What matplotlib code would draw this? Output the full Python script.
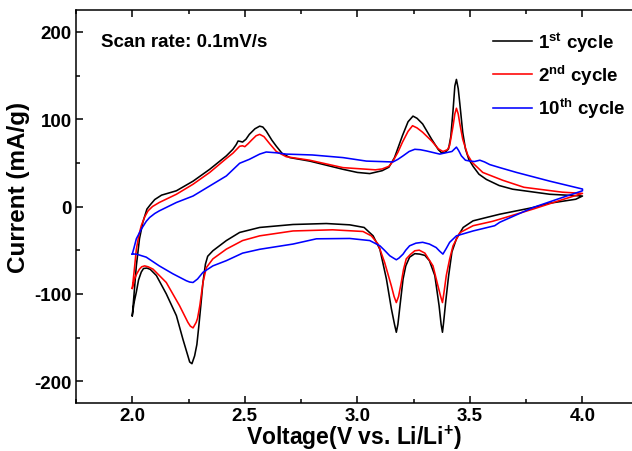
import matplotlib
matplotlib.use("Agg")
import matplotlib.pyplot as plt
from matplotlib.ticker import MultipleLocator

plt.rcParams["font.family"] = ["Liberation Sans", "DejaVu Sans"]
plt.rcParams["font.weight"] = "bold"
plt.rcParams["axes.unicode_minus"] = False
plt.rcParams["mathtext.fontset"] = "custom"
plt.rcParams["mathtext.rm"] = "Liberation Sans:bold"
plt.rcParams["mathtext.bf"] = "Liberation Sans:bold"

# 1st cycle: anodic (upper) branch 2.0 -> 4.0, cathodic (lower) branch 4.0 -> 2.0
v_1st_up = [2.0, 2.008, 2.018, 2.032, 2.047, 2.065, 2.08, 2.1, 2.13, 2.196, 2.27, 2.344, 2.418,
            2.447, 2.462, 2.47, 2.48, 2.49, 2.505, 2.52, 2.545, 2.566, 2.58, 2.595, 2.62, 2.64,
            2.665, 2.7, 2.788, 2.936, 3.0, 3.055, 3.11, 3.14, 3.165, 3.2, 3.225, 3.247, 3.265,
            3.29, 3.33, 3.36, 3.373, 3.39, 3.405, 3.415, 3.425, 3.433, 3.44, 3.448, 3.455,
            3.468, 3.48, 3.495, 3.514, 3.54, 3.573, 3.63, 3.69, 3.855, 4.0]
i_1st_up = [-125, -100, -68, -37, -18, -3, 2, 8, 13, 18, 29, 42.6, 58,
            65.5, 71, 75, 74.5, 73.8, 77, 82.6, 89, 92, 91, 86.4, 76, 69,
            61, 56, 52, 42.6, 39, 37.7, 41, 45, 56, 81, 97, 103.5, 101,
            94.5, 77, 65, 61.7, 62, 66, 80, 110, 138, 145.5, 135, 118,
            85, 66, 54, 46, 37, 31, 24, 19.8, 14, 12]
v_1st_dn = [4.0, 3.97, 3.855, 3.78, 3.633, 3.573, 3.514, 3.47, 3.44, 3.42, 3.405, 3.392,
            3.383, 3.378, 3.372, 3.363, 3.344, 3.32, 3.3, 3.277, 3.255, 3.232, 3.215, 3.203,
            3.19, 3.18, 3.173, 3.165, 3.151, 3.129, 3.1, 3.07, 3.03, 2.966, 2.862, 2.714,
            2.566, 2.477, 2.418, 2.358, 2.335, 2.325, 2.314, 2.305, 2.296, 2.287, 2.277,
            2.265, 2.255, 2.247, 2.225, 2.196, 2.151, 2.107, 2.08, 2.065, 2.05, 2.04, 2.028,
            2.018, 2.008, 2.0]
i_1st_dn = [12, 8.3, 3.8, -1.2, -8.8, -12.6, -16.4, -24, -37, -52, -80, -110,
            -133, -144, -135, -113.6, -79, -62, -56, -54.5, -54, -58, -68, -83,
            -112, -135, -144, -135, -117, -83, -49, -33.6, -24, -21, -19.5, -20.6,
            -24, -29.7, -39, -50.7, -57, -66, -87, -112, -136, -158, -171,
            -180, -178, -171, -152, -125, -100, -79, -72, -70.5, -71, -75, -84,
            -98, -110, -125]

# 2nd cycle
v_2nd_up = [2.0, 2.008, 2.018, 2.03, 2.04, 2.055, 2.07, 2.09, 2.12, 2.196, 2.27, 2.344, 2.418,
            2.447, 2.477, 2.49, 2.5, 2.515, 2.53, 2.55, 2.566, 2.585, 2.61, 2.64, 2.684,
            2.788, 2.936, 3.08, 3.11, 3.14, 3.155, 3.18, 3.2, 3.225, 3.245, 3.265, 3.29,
            3.33, 3.36, 3.38, 3.4, 3.41, 3.425, 3.433, 3.44, 3.448, 3.455, 3.468, 3.49,
            3.51, 3.557, 3.646, 3.74, 3.91, 4.0]
i_2nd_up = [-93.7, -75, -49, -32, -22, -12, -5, 0, 4.6, 14, 25.5, 39, 55,
            61, 69, 69.5, 68.5, 72, 76, 81, 82.6, 80, 72, 63, 57,
            53, 44.5, 42, 43, 46, 50.7, 62, 73.5, 86, 92.5, 90, 85,
            75, 66, 63, 65, 70, 92, 106, 112.5, 106, 95, 77, 59,
            50.5, 39, 30, 22, 16.4, 15]
v_2nd_dn = [4.0, 3.9, 3.78, 3.633, 3.6, 3.514, 3.455, 3.425, 3.41, 3.395, 3.385, 3.378,
            3.37, 3.358, 3.336, 3.3, 3.275, 3.255, 3.235, 3.217, 3.205, 3.195, 3.183, 3.173,
            3.163, 3.151, 3.121, 3.092, 3.062, 3.025, 2.89, 2.714, 2.566, 2.49, 2.418,
            2.358, 2.329, 2.314, 2.3, 2.29, 2.284, 2.27, 2.258, 2.247, 2.21, 2.151, 2.092,
            2.07, 2.055, 2.042, 2.032, 2.02, 2.01, 2.0]
i_2nd_dn = [15, 7, -3, -14.5, -17, -22, -30, -45, -60, -79, -98, -110,
            -103, -91, -68, -53.4, -50, -50.7, -55, -60, -72, -87, -103, -110,
            -103, -91, -64, -43, -33.6, -28.6, -26.7, -28, -33.6, -39, -48.8,
            -60, -70, -87, -113.6, -128, -132.6, -139, -137, -132.6, -113.6, -87, -71.7,
            -69, -68, -69, -71.7, -77, -83, -93.7]

# 10th cycle
v_10th_up = [2.0, 2.008, 2.018, 2.04, 2.062, 2.077, 2.1, 2.12, 2.196, 2.27, 2.344, 2.418, 2.477,
             2.52, 2.566, 2.595, 2.64, 2.684, 2.8, 2.936, 3.04, 3.158, 3.18, 3.203, 3.23,
             3.255, 3.28, 3.307, 3.366, 3.396, 3.42, 3.432, 3.44, 3.45, 3.462, 3.48, 3.5,
             3.52, 3.544, 3.565, 3.588, 3.633, 3.707, 3.855, 4.0]
i_10th_up = [-54.5, -47, -37, -26, -17, -12.6, -8, -5, 4.6, 12, 23.5, 35, 49.5,
             54, 60, 62.4, 61.5, 60, 59, 56, 52, 51, 54, 58, 63,
             65.5, 65, 63.6, 60, 61.7, 63, 66, 68, 64, 58, 53, 52,
             51.5, 53, 51, 48, 44.5, 39, 29, 20]
v_10th_dn = [4.0, 3.93, 3.78, 3.633, 3.61, 3.514, 3.44, 3.41, 3.395, 3.38, 3.365, 3.35, 3.32,
             3.29, 3.26, 3.232, 3.215, 3.203, 3.185, 3.173, 3.16, 3.144, 3.12, 3.1, 3.055,
             2.966, 2.818, 2.714, 2.566, 2.49, 2.418, 2.358, 2.314, 2.29, 2.27, 2.255, 2.24,
             2.18, 2.12, 2.062, 2.018, 2.0]
i_10th_dn = [18, 12, -1.2, -18, -22, -28, -33.6, -41, -48, -54.5, -51, -47, -43,
             -41, -42, -45, -50, -54.5, -59, -61, -59, -56.4, -50, -45, -39,
             -36.6, -37, -43, -49, -53.4, -62, -68, -75.4, -83, -87, -86.5, -85,
             -77, -68, -58, -54.5, -54.5]

labels = [r"1$^{\mathbf{st}}$ cycle", r"2$^{\mathbf{nd}}$ cycle", r"10$^{\mathbf{th}}$ cycle"]
colors = ["black", "red", "blue"]
cycles = [(v_1st_up + v_1st_dn, i_1st_up + i_1st_dn),
          (v_2nd_up + v_2nd_dn, i_2nd_up + i_2nd_dn),
          (v_10th_up + v_10th_dn, i_10th_up + i_10th_dn)]

fig = plt.figure(figsize=(6.32, 4.52), dpi=100)
ax = fig.add_axes([76/632, 1 - 404/452, 1 - 76/632, (404 - 11)/452])

for (v, i), c, lab in zip(cycles, colors, labels):
    ax.plot(v, i, color=c, lw=1.15, label=lab, solid_joinstyle="round")

ax.set_xlim(1.75, 4.22)
ax.set_ylim(-225, 225)
ax.xaxis.set_major_locator(MultipleLocator(0.5))
ax.xaxis.set_minor_locator(MultipleLocator(0.25))
ax.yaxis.set_major_locator(MultipleLocator(100))
ax.yaxis.set_minor_locator(MultipleLocator(50))
ax.tick_params(which="both", direction="in", top=True, right=False, labelsize=13.5, width=1.1)
ax.tick_params(which="major", length=5, pad=3)
ax.tick_params(which="minor", length=3)
for lbl in ax.get_xticklabels() + ax.get_yticklabels():
    lbl.set_fontweight("bold")
for s in ["left", "bottom", "top"]:
    ax.spines[s].set_linewidth(1.1)
ax.spines["right"].set_visible(False)

ax.set_xlabel(r"Voltage(V vs. Li/Li$^{\mathbf{+}}$)", fontsize=16.5, fontweight="bold", labelpad=-1)
ax.set_ylabel("Current (mA/g)", fontsize=17.5, fontweight="bold")
ax.yaxis.set_label_coords(-0.083, 0.552)

ax.text(1.86, 189, "Scan rate: 0.1mV/s", fontsize=13.5, fontweight="bold", va="center")

leg = ax.legend(loc="upper left", bbox_to_anchor=(493/632, 1 - 30/452), bbox_transform=fig.transFigure,
                frameon=False, fontsize=13.5, handlelength=2.1, handletextpad=0.3,
                labelspacing=0.45, borderpad=0, borderaxespad=0)
for t in leg.get_texts():
    t.set_fontweight("bold")

fig.savefig("out.png", dpi=100)
